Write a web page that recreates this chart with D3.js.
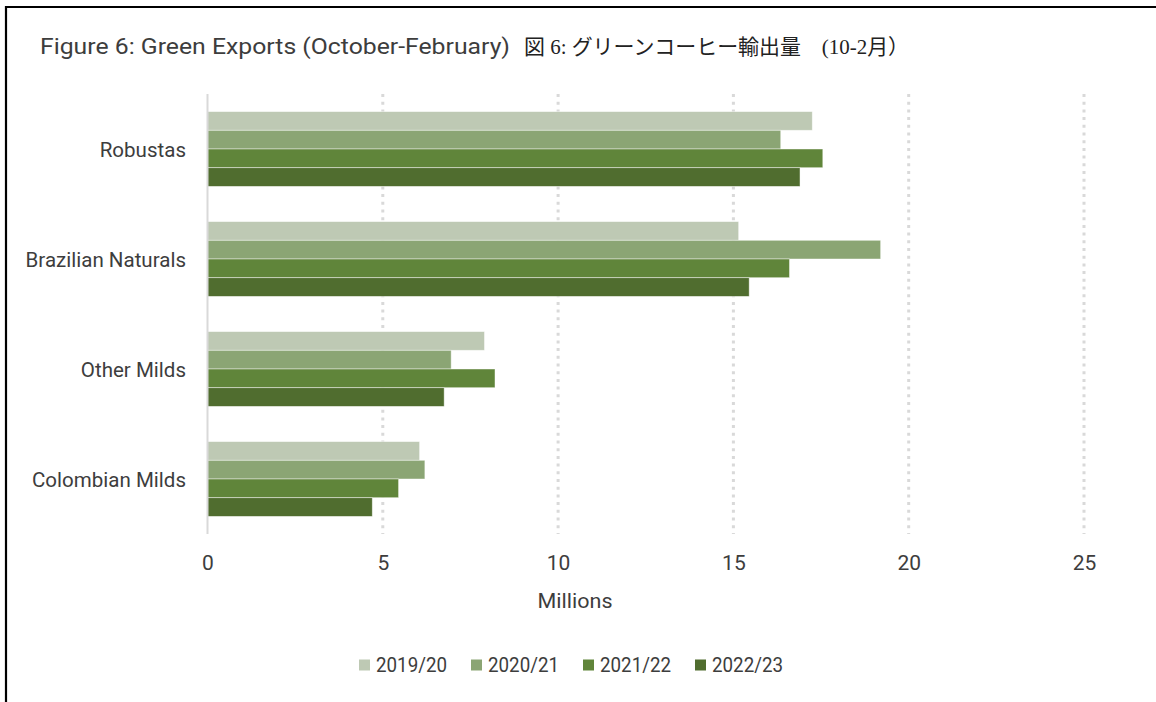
<!DOCTYPE html>
<html>
<head>
<meta charset="utf-8">
<script src="https://cdn.jsdelivr.net/npm/d3@7"></script>
<style>
  html, body { margin: 0; padding: 0; background: #fff; }
  svg { display: block; }
</style>
</head>
<body>
<svg id="chart" width="1156" height="702"></svg>
<script>
// ---- data ----
const categories = ["Robustas", "Brazilian Naturals", "Other Milds", "Colombian Milds"];
const seriesNames = ["2019/20", "2020/21", "2021/22", "2022/23"];
const s2019 = [17.25, 15.15, 7.9, 6.05];
const s2020 = [16.35, 19.2, 6.95, 6.2];
const s2021 = [17.55, 16.6, 8.2, 5.45];
const s2022 = [16.9, 15.45, 6.75, 4.7];
const xTicks = [0, 5, 10, 15, 20, 25];
const titleEn = "Figure 6: Green Exports (October-February)";
const titleJa = "図 6: グリーンコーヒー輸出量　(10-2月）";
const axisTitle = "Millions";

const seriesValues = [s2019, s2020, s2021, s2022];
const colors = ["#bec9b4", "#8ba574", "#60853a", "#506d2f"];

const svg = d3.select("#chart");
const sans = "Roboto, 'Open Sans', sans-serif";
const textColor = "#3d3d3d";

// set a font size, then condense each text to a width proportional to a target total
function fitGroup(sel, targetTotal, size) {
  sel.attr("font-size", size);
  let sum = 0;
  sel.each(function () { sum += this.getComputedTextLength(); });
  const k = targetTotal / sum;
  sel.each(function () {
    const w = this.getComputedTextLength() * k;
    d3.select(this).attr("textLength", w).attr("lengthAdjust", "spacingAndGlyphs");
  });
}

// frame lines
svg.append("line").attr("x1", 6).attr("x2", 1156).attr("y1", 7).attr("y2", 7)
  .attr("stroke", "#000").attr("stroke-width", 2.2);
svg.append("line").attr("x1", 6).attr("x2", 6).attr("y1", 6).attr("y2", 702)
  .attr("stroke", "#000").attr("stroke-width", 2.2);

// title
const tEn = svg.append("text").attr("x", 40).attr("y", 46).attr("dy", "0.36em").text(titleEn)
  .attr("font-family", sans).attr("fill", textColor);
fitGroup(tEn, 470, 22);
const tJa = svg.append("text").attr("x", 524).attr("y", 46).attr("dy", "0.36em").text(titleJa)
  .attr("font-family", "'Liberation Serif', 'Noto Sans CJK JP', serif")
  .attr("fill", "#222");
fitGroup(tJa, 385, 21);

// scales
const x = d3.scaleLinear().domain([0, 25]).range([207.5, 1084]);
const y = d3.scaleBand().domain(categories).range([94, 534]).paddingInner(0.32).paddingOuter(0.16);
const yInner = d3.scaleBand().domain(seriesNames).range([0, y.bandwidth()]);

// gridlines
const gridTop = 94, gridBottom = 534;
svg.append("g").selectAll("line").data(xTicks.filter(d => d > 0)).join("line")
  .attr("x1", d => x(d)).attr("x2", d => x(d))
  .attr("y1", gridTop).attr("y2", gridBottom)
  .attr("stroke", "#d9d9d9").attr("stroke-width", 3)
  .attr("stroke-dasharray", "3,4.7");

// bars
const g = svg.append("g");
categories.forEach((cat, ci) => {
  g.append("g").selectAll("rect")
    .data(seriesNames.map((s, si) => ({ s, v: seriesValues[si][ci], c: colors[si] })))
    .join("rect")
    .attr("x", x(0))
    .attr("y", d => y(cat) + yInner(d.s))
    .attr("width", d => x(d.v) - x(0))
    .attr("height", yInner.bandwidth())
    .attr("fill", d => d.c)
    .attr("stroke", "rgba(255,255,255,0.55)")
    .attr("stroke-width", 0.8);
});

// zero axis line
svg.append("line").attr("x1", x(0)).attr("x2", x(0)).attr("y1", gridTop).attr("y2", gridBottom)
  .attr("stroke", "#d9d9d9").attr("stroke-width", 2);

// x axis labels
const xAxis = d3.axisBottom(x).tickValues(xTicks).tickSize(0).tickPadding(0);
const xg = svg.append("g").attr("transform", "translate(0,562.5)").call(xAxis);
xg.select(".domain").remove();
xg.selectAll("text").attr("font-family", sans).attr("font-size", 21).attr("fill", textColor)
  .attr("dy", "0.36em");

// y axis labels
const yAxis = d3.axisLeft(y).tickSize(0).tickPadding(0);
const yg = svg.append("g").attr("transform", "translate(186,0)").call(yAxis);
yg.select(".domain").remove();
const yLabels = yg.selectAll("text").attr("font-family", sans).attr("fill", textColor).attr("dy", "0.36em");
fitGroup(yLabels, 83 + 161 + 106 + 152 + 4, 21);

// axis title
const at = svg.append("text").attr("x", 575).attr("y", 601).attr("dy", "0.36em").attr("text-anchor", "middle")
  .attr("font-family", sans).attr("fill", textColor).text(axisTitle);
fitGroup(at, 75, 20.5);

// legend
const lg = svg.append("g");
const items = lg.selectAll("g").data(seriesNames).join("g");
items.append("rect").attr("width", 11).attr("height", 11).attr("y", -5.5)
  .attr("fill", (d, i) => colors[i]);
const legTexts = items.append("text").attr("x", 17).attr("dy", "0.36em").text(d => d)
  .attr("font-family", sans).attr("fill", textColor);
fitGroup(legTexts, 4 * 71, 20.5);
let off = 0;
const gap = 24;
items.each(function () {
  const w = 17 + (+this.querySelector("text").getAttribute("textLength"));
  this._off = off;
  off += w + gap;
});
const total = off - gap;
const startX = 571 - total / 2;
items.attr("transform", function () { return `translate(${startX + this._off},665)`; });
</script>
</body>
</html>
